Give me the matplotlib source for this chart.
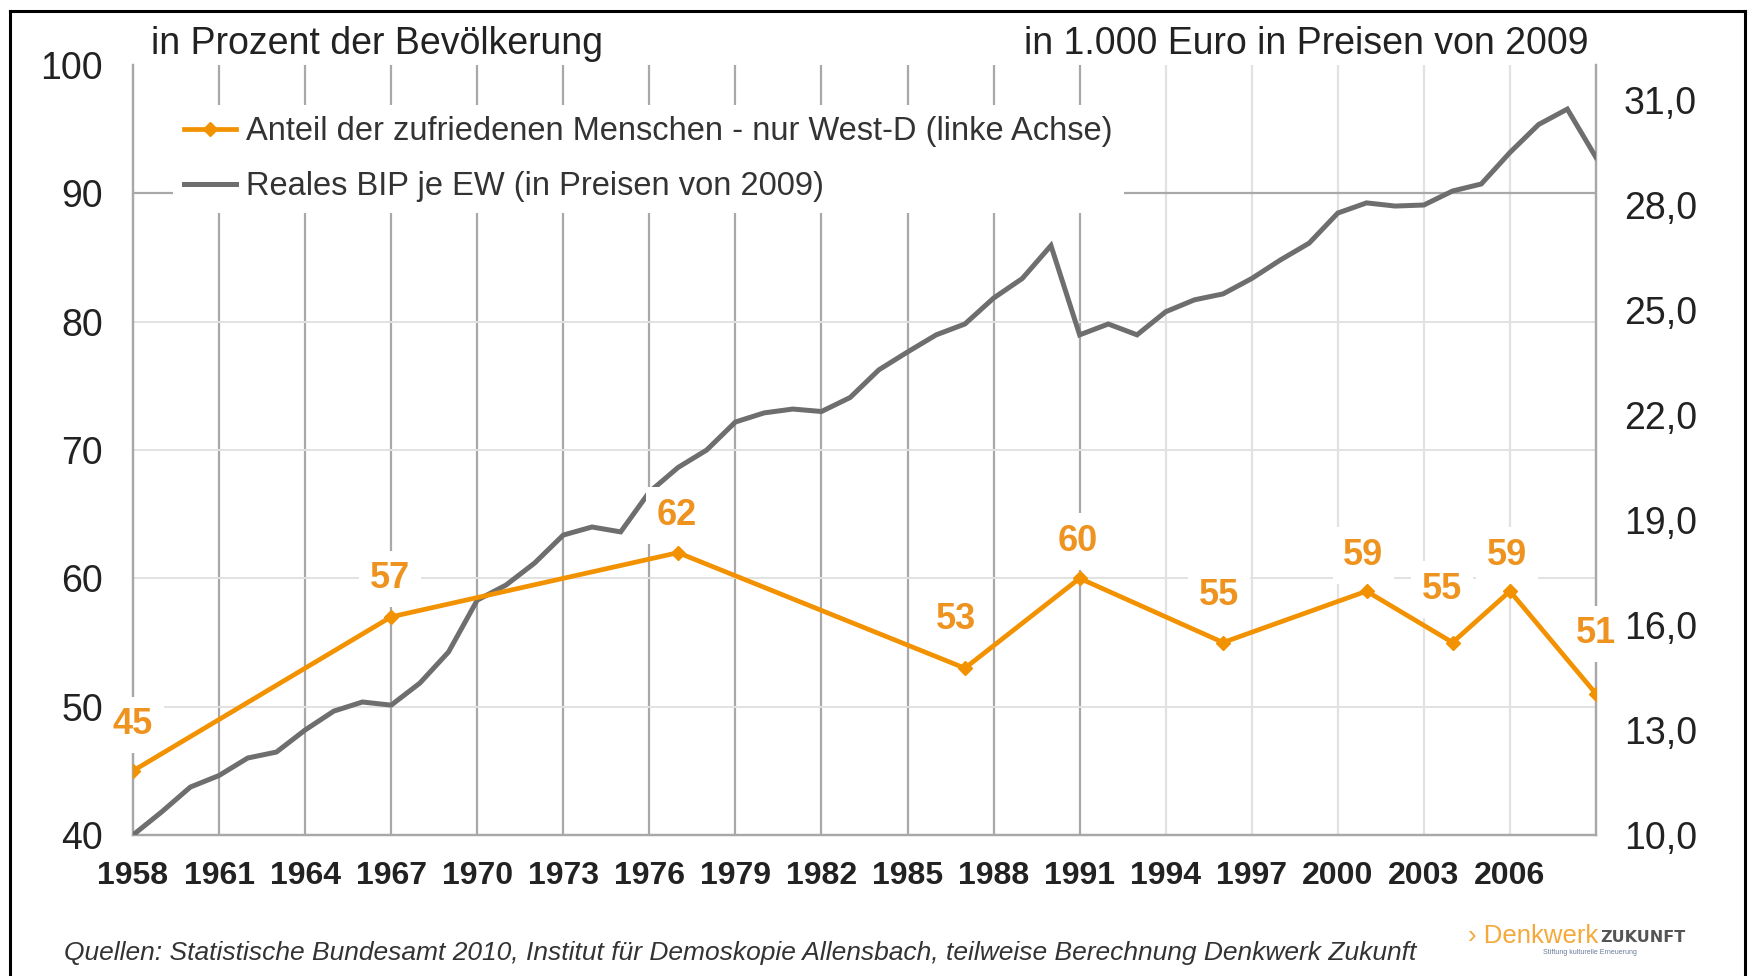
import matplotlib
matplotlib.use("Agg")
import matplotlib.pyplot as plt
from matplotlib.lines import Line2D

plt.rcParams['font.family'] = ['Liberation Sans', 'DejaVu Sans']

# ---- data ----
gdp_years = list(range(1958, 2010))
gdp_values = [10.0, 10.66, 11.37, 11.7, 12.2, 12.37, 13.0, 13.54, 13.8, 13.71,
              14.34, 15.23, 16.71, 17.14, 17.77, 18.57, 18.8, 18.66, 19.8, 20.5,
              21.0, 21.8, 22.06, 22.17, 22.1, 22.5, 23.29, 23.8, 24.29, 24.6,
              25.34, 25.9, 26.84, 24.29, 24.6, 24.29, 24.95, 25.29, 25.46, 25.9,
              26.43, 26.91, 27.77, 28.06, 27.97, 28.0, 28.4, 28.6, 29.5, 30.3,
              30.74, 29.36]
sat_years = [1958, 1967, 1977, 1987, 1991, 1996, 2001, 2004, 2006, 2009]
sat_values = [45, 57, 62, 53, 60, 55, 59, 55, 59, 51]
xtick_years = list(range(1958, 2007, 3))
left_ticks = [40, 50, 60, 70, 80, 90, 100]
right_ticks = [10, 13, 16, 19, 22, 25, 28, 31]
label_sat = "Anteil der zufriedenen Menschen - nur West-D (linke Achse)"
label_gdp = "Reales BIP je EW (in Preisen von 2009)"
title_left = "in Prozent der Bevölkerung"
title_right = "in 1.000 Euro in Preisen von 2009"
source = ("Quellen: Statistische Bundesamt 2010, Institut für Demoskopie Allensbach, "
          "teilweise Berechnung Denkwerk Zukunft")

# ---- style ----
ORANGE = "#F29200"
ORANGE_TXT = "#EE9320"
GRAY_LINE = "#6E6E6E"
TXT = "#222222"
GRID_DARK = "#A8A8A8"
GRID_LIGHT = "#E2E2E2"

W, H = 1754, 976
fig = plt.figure(figsize=(W / 100, H / 100), dpi=100)
fig.patch.set_facecolor("white")

L, R, B, T = 133, 1596, 835, 65
ax = fig.add_axes([L / W, 1 - B / H, (R - L) / W, (B - T) / H])
ax2 = ax.twinx()

ax.set_xlim(1958, 2009)
ax.set_ylim(40, 100)
ax2.set_ylim(10, 32)

# grid (on bottom axes)
for yr in xtick_years[1:]:
    c = GRID_DARK if yr <= 1991 else GRID_LIGHT
    ax.axvline(yr, color=c, lw=1.6, zorder=0)
for v in [50, 60, 70, 80]:
    ax.axhline(v, color=GRID_LIGHT, lw=1.4, zorder=0)
ax.axhline(90, color=GRID_DARK, lw=1.6, zorder=0)

for a in (ax, ax2):
    a.spines["top"].set_visible(False)
    for s in ("left", "right", "bottom"):
        a.spines[s].set_color(GRID_DARK)
        a.spines[s].set_linewidth(1.6)
    a.tick_params(length=0)

ax.set_xticks(xtick_years)
ax.set_xticklabels([str(y) for y in xtick_years], fontsize=23, fontweight="bold", color=TXT)
ax.tick_params(axis="x", pad=19)
ax.set_yticks(left_ticks)
ax.set_yticklabels([str(v) for v in left_ticks], fontsize=27, color=TXT)
ax.tick_params(axis="y", pad=21.5)
ax2.set_yticks(right_ticks)
ax2.set_yticklabels([f"{v},0" for v in right_ticks], fontsize=27, color=TXT)
ax2.tick_params(axis="y", pad=20)

# lines (on top axes)
gdp_line, = ax2.plot(gdp_years, gdp_values, color=GRAY_LINE, lw=3.6, zorder=3,
                     solid_joinstyle="miter")
sat_line, = ax2.plot(sat_years, sat_values, color=ORANGE, lw=3.4, marker="D",
                     markersize=7.5, zorder=4, transform=ax.transData)

offsets = [(0, 46), (-1, 38), (-1, 37), (-9, 49), (-2, 37), (-4, 47), (-3, 36),
           (-11, 53), (-3, 36), (0, 60)]
for yr, v, (dx, dy) in zip(sat_years, sat_values, offsets):
    ax2.annotate(str(v), xy=(yr, v), xycoords=ax.transData,
                 xytext=(dx, dy), textcoords="offset pixels",
                 ha="center", va="center", fontsize=26, fontweight="bold",
                 color=ORANGE_TXT, zorder=3.5,
                 bbox=dict(boxstyle="square,pad=0.3", fc="white", ec="none"))

leg = ax2.legend([sat_line, gdp_line], [label_sat, label_gdp],
                 loc="upper left", bbox_to_anchor=(0.027, 0.948),
                 fontsize=23.5, frameon=True, facecolor="white", edgecolor="none",
                 fancybox=False, framealpha=1.0, handlelength=1.6,
                 handletextpad=0.3, borderpad=0.35, labelspacing=0.72,
                 borderaxespad=0, numpoints=1)
for t in leg.get_texts():
    t.set_color("#333333")
leg.set_zorder(6)

# headers
fig.text(151 / W, 1 - 44 / H, title_left, fontsize=27, color=TXT, ha="left", va="center")
fig.text(1588 / W, 1 - 44 / H, title_right, fontsize=27, color=TXT, ha="right", va="center")

# source
fig.text(64 / W, 1 - 953 / H, source, fontsize=19, style="italic", color="#333333",
         ha="left", va="center")

# logo
fig.text(1468 / W, 1 - 936 / H, "› Denkwerk", fontsize=18.5, color="#F4A93A",
         ha="left", va="center")
fig.text(1600 / W, 1 - 937 / H, "ZUKUNFT", fontsize=11.5, fontweight="bold",
         family="DejaVu Sans", color="#555555", ha="left", va="center")
fig.text(1543 / W, 1 - 952 / H, "Stiftung kulturelle Erneuerung", fontsize=5,
         color="#6a7a9a", ha="left", va="center")

# frame
fig.add_artist(Line2D([10 / W, 10 / W], [0, 1 - 11 / H], color="black", lw=2.2,
                      transform=fig.transFigure))
fig.add_artist(Line2D([10 / W, 1745 / W], [1 - 11 / H, 1 - 11 / H], color="black",
                      lw=2.2, transform=fig.transFigure))
fig.add_artist(Line2D([1745 / W, 1745 / W], [0, 1 - 11 / H], color="black", lw=2.2,
                      transform=fig.transFigure))

fig.savefig("out.png", dpi=100)
